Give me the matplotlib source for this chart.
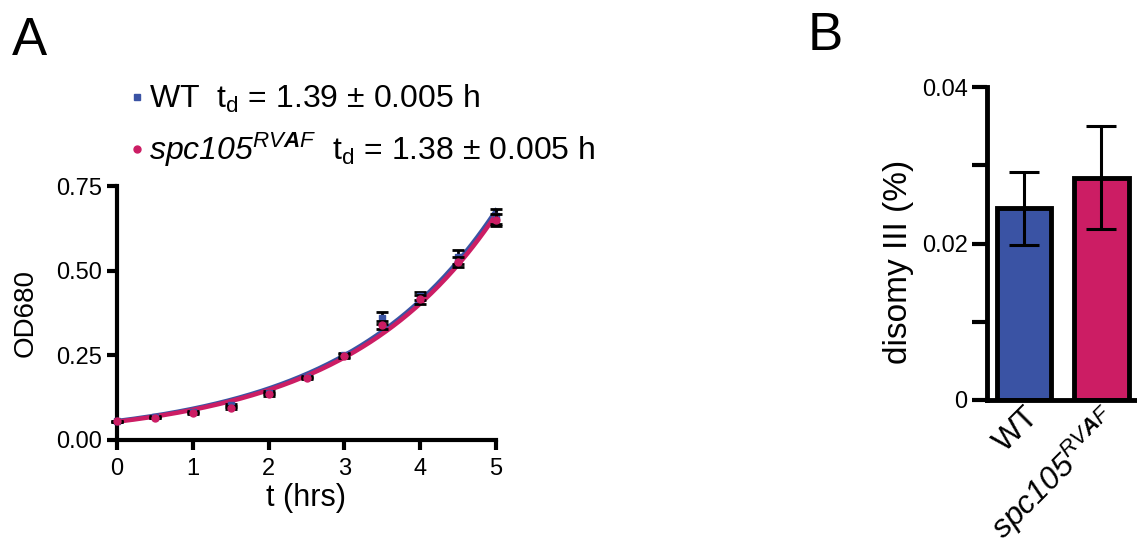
import numpy as np
import matplotlib
matplotlib.use("Agg")
import matplotlib.pyplot as plt
from matplotlib.lines import Line2D
from matplotlib.ticker import MultipleLocator

plt.rcParams['font.family'] = ['Liberation Sans', 'DejaVu Sans']
# mathtext: rm is italic so digits inside the gene name come out italic,
# sf is the upright face used for the subscript "d"
plt.rcParams['mathtext.fontset'] = 'custom'
plt.rcParams['mathtext.rm'] = 'Liberation Sans:italic'
plt.rcParams['mathtext.it'] = 'Liberation Sans:italic'
plt.rcParams['mathtext.sf'] = 'Liberation Sans'
plt.rcParams['mathtext.bf'] = 'Liberation Sans:bold'
plt.rcParams['mathtext.bfit'] = 'Liberation Sans:bold:italic'

BLUE = '#3a53a4'
PINK = '#cc1d64'

# growth curve data (panel A)
t_hrs = [0, 0.5, 1, 1.5, 2, 2.5, 3, 3.5, 4, 4.5, 5]
wt_od = [0.055, 0.068, 0.082, 0.102, 0.140, 0.186, 0.250, 0.360, 0.425, 0.540, 0.660]
wt_err = [0.002, 0.003, 0.003, 0.004, 0.005, 0.004, 0.006, 0.018, 0.012, 0.020, 0.022]
spc_od = [0.055, 0.066, 0.080, 0.095, 0.135, 0.183, 0.248, 0.340, 0.415, 0.525, 0.650]
spc_err = [0.002, 0.002, 0.003, 0.004, 0.004, 0.004, 0.005, 0.012, 0.012, 0.015, 0.018]

# exponential fit parameters: OD = y0 * 2^(t / td)
wt_y0, wt_td = 0.056, 1.39
spc_y0, spc_td = 0.054, 1.38

# disomy data (panel B)
strains = ['WT', r'$\mathit{spc105}^{\mathit{RV}\mathbfit{A}\mathit{F}}$']
disomy = [0.0245, 0.0284]
disomy_err = [0.0047, 0.0066]

fig = plt.figure(figsize=(11.37, 5.46), dpi=100)
W, H = 1137.0, 546.0

# ---- panel A ----
ax = fig.add_axes([117 / W, 1 - 440 / H, 379 / W, 254 / H])
tt = np.linspace(0, 5, 200)
ax.plot(tt, wt_y0 * 2 ** (tt / wt_td), color=BLUE, lw=3.2, zorder=2)
ax.plot(tt, spc_y0 * 2 ** (tt / spc_td), color=PINK, lw=3.2, zorder=3)
ax.errorbar(t_hrs, wt_od, yerr=wt_err, fmt='s', color=BLUE, ms=5, ecolor='black',
            elinewidth=2, capsize=4, capthick=2, zorder=4)
ax.errorbar(t_hrs, spc_od, yerr=spc_err, fmt='o', color=PINK, ms=5, ecolor='black',
            elinewidth=2, capsize=4, capthick=2, zorder=5)
ax.set_xlim(0, 5)
ax.set_ylim(0, 0.75)
ax.set_xticks(range(6))
ax.set_yticks([0, 0.25, 0.5, 0.75])
ax.set_yticklabels(['0.00', '0.25', '0.50', '0.75'])
for s in ['top', 'right']:
    ax.spines[s].set_visible(False)
for s in ['left', 'bottom']:
    ax.spines[s].set_linewidth(3)
ax.tick_params(width=3, length=7, direction='out')
ax.tick_params(axis='x', labelsize=17, pad=6)
ax.tick_params(axis='y', labelsize=17, pad=4)
for art in ax.lines + ax.collections:
    art.set_clip_on(False)
ax.set_xlabel('t (hrs)', fontsize=22, labelpad=2)
ax.set_ylabel('OD680', fontsize=20, labelpad=12)

handles = [Line2D([], [], marker='s', color=BLUE, ls='none', ms=5),
           Line2D([], [], marker='o', color=PINK, ls='none', ms=5)]
labels = [r'WT  t$_\mathsf{d}$ = 1.39 ± 0.005 h',
          r'$\mathit{spc105}^{\mathit{RV}\mathbfit{A}\mathit{F}}$  t$_\mathsf{d}$ = 1.38 ± 0.005 h']
leg = fig.legend(handles, labels, loc='upper left', bbox_to_anchor=(127 / W, 1 - 83 / H),
                 frameon=False, fontsize=23, handlelength=0.6, handletextpad=0.1,
                 borderpad=0, borderaxespad=0, labelspacing=0.5)

# ---- panel B ----
bx = fig.add_axes([987 / W, 1 - 400 / H, 150 / W, 313 / H])
bx.bar([0, 1], disomy, width=0.7, color=[BLUE, PINK], edgecolor='black', linewidth=3.5, zorder=2)
bx.errorbar([0, 1], disomy, yerr=disomy_err, fmt='none', ecolor='black',
            elinewidth=2.2, capsize=11, capthick=2.2, zorder=3)
bx.set_xlim(-0.477, 1.458)
bx.set_ylim(0, 0.04)
bx.set_yticks([0, 0.02, 0.04])
bx.set_yticklabels(['0', '0.02', '0.04'])
bx.yaxis.set_minor_locator(MultipleLocator(0.01))
bx.set_xticks([0, 1])
bx.set_xticklabels(strains, rotation=45, ha='right', rotation_mode='anchor', fontsize=23)
for s in ['top', 'right']:
    bx.spines[s].set_visible(False)
for s in ['left', 'bottom']:
    bx.spines[s].set_linewidth(3.5)
bx.tick_params(axis='y', which='both', width=3, length=11, labelsize=17, pad=3)
bx.tick_params(axis='x', length=0, pad=1)
bx.set_ylabel('disomy III (%)', fontsize=24)
bx.yaxis.label.set_verticalalignment('center')
bx.yaxis.set_label_coords(-0.587, 0.44)

fig.text(12 / W, 1 - 55 / H, 'A', fontsize=38, ha='left', va='baseline')
fig.text(808 / W, 1 - 50 / H, 'B', fontsize=38, ha='left', va='baseline')

fig.savefig('out.png', dpi=100)
